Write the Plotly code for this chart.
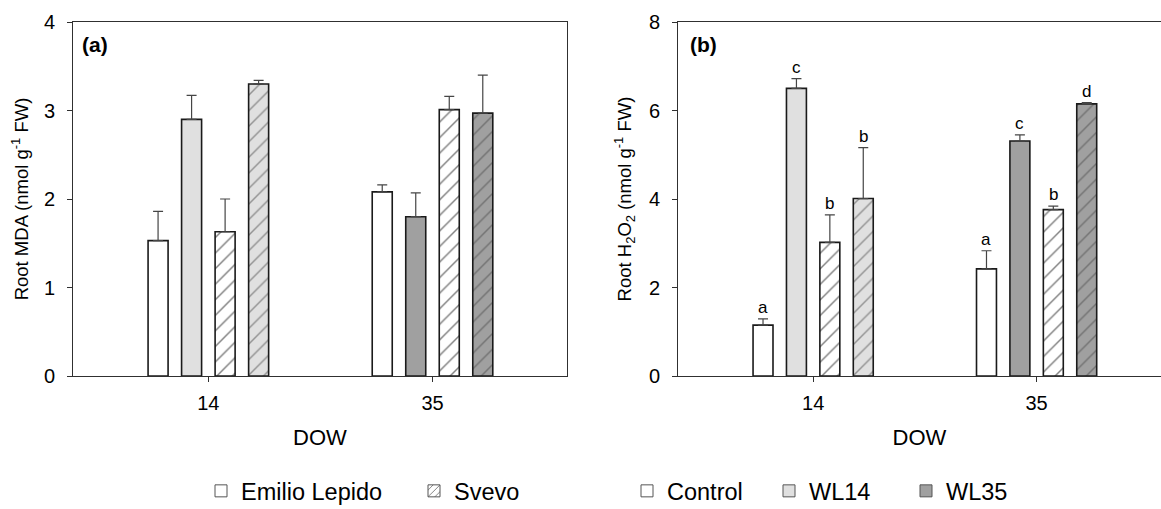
import plotly.graph_objects as go

# ---- data -------------------------------------------------------------
dow = [14, 35]                      # days of waterlogging
dow_labels = ["14", "35"]

# Root MDA (nmol g-1 FW): Emilio Lepido / Svevo, control / waterlogged
mda_el_control = [1.53, 2.08]
mda_el_control_se = [0.33, 0.08]
mda_el_wl = [2.90, 1.80]
mda_el_wl_se = [0.27, 0.27]
mda_sv_control = [1.63, 3.01]
mda_sv_control_se = [0.37, 0.15]
mda_sv_wl = [3.30, 2.97]
mda_sv_wl_se = [0.04, 0.43]

# Root H2O2 (nmol g-1 FW)
h2o2_el_control = [1.15, 2.42]
h2o2_el_control_se = [0.14, 0.41]
h2o2_el_wl = [6.50, 5.31]
h2o2_el_wl_se = [0.22, 0.14]
h2o2_sv_control = [3.02, 3.76]
h2o2_sv_control_se = [0.62, 0.08]
h2o2_sv_wl = [4.01, 6.15]
h2o2_sv_wl_se = [1.15, 0.03]

# significance letters for H2O2
h2o2_el_control_let = ["a", "a"]
h2o2_el_wl_let = ["c", "c"]
h2o2_sv_control_let = ["b", "b"]
h2o2_sv_wl_let = ["b", "d"]

# ---- style ------------------------------------------------------------
FONT = "Liberation Sans, Arial, sans-serif"
WHITE = "#ffffff"
LIGHT = "#e0e0e0"       # WL14
DARK = "#a0a0a0"        # WL35
WL_FILL = [LIGHT, DARK]  # waterlogged fill by DOW
EDGE = "#1a1a1a"
ERR = "#454545"
AXIS = "#303030"

BAR_STEP = 3.14   # distance between neighbouring bars (x units)
BAR_W = 1.875     # bar width (x units)

W, H = 1161, 509

fig = go.Figure()


def bar_x(slot):
    return [d + (slot - 1.5) * BAR_STEP for d in dow]


def add_bars(values, errors, slot, fill, hatched, xa, ya, letters=None):
    marker = dict(color=fill, line=dict(color=EDGE, width=1.6))
    if hatched:
        marker["pattern"] = dict(shape="/", fgcolor="#000000", bgcolor=fill,
                                 size=11, solidity=0.13)
    xs = bar_x(slot)
    fig.add_trace(go.Bar(
        x=xs, y=values, width=BAR_W, marker=marker,
        error_y=dict(type="data", array=errors, arrayminus=[0] * len(errors),
                     symmetric=False, color=ERR, thickness=1.2, width=5),
        xaxis=xa, yaxis=ya, showlegend=False, hoverinfo="skip"))
    if letters:
        for x, v, e, t in zip(xs, values, errors, letters):
            fig.add_annotation(x=x, y=v + e, xref=xa, yref=ya, text=t,
                               showarrow=False, yanchor="bottom", yshift=0,
                               font=dict(family=FONT, size=17, color="#000"))


# panel (a): MDA
add_bars(mda_el_control, mda_el_control_se, 0, WHITE, False, "x", "y")
add_bars(mda_el_wl, mda_el_wl_se, 1, WL_FILL, False, "x", "y")
add_bars(mda_sv_control, mda_sv_control_se, 2, WHITE, True, "x", "y")
add_bars(mda_sv_wl, mda_sv_wl_se, 3, WL_FILL, True, "x", "y")

# panel (b): H2O2
add_bars(h2o2_el_control, h2o2_el_control_se, 0, WHITE, False, "x2", "y2", h2o2_el_control_let)
add_bars(h2o2_el_wl, h2o2_el_wl_se, 1, WL_FILL, False, "x2", "y2", h2o2_el_wl_let)
add_bars(h2o2_sv_control, h2o2_sv_control_se, 2, WHITE, True, "x2", "y2", h2o2_sv_control_let)
add_bars(h2o2_sv_wl, h2o2_sv_wl_se, 3, WL_FILL, True, "x2", "y2", h2o2_sv_wl_let)

# legend entries (one legend per entry so each can be placed freely)
legend_items = [
    ("Emilio Lepido", WHITE, False, "legend", 201),
    ("Svevo", WHITE, True, "legend2", 414),
    ("Control", WHITE, False, "legend3", 627),
    ("WL14", LIGHT, False, "legend4", 769),
    ("WL35", DARK, False, "legend5", 906),
]
legend_layout = {}
for name, fill, hatched, lg, left in legend_items:
    marker = dict(color=fill, line=dict(color="#555555", width=1))
    if hatched:
        marker["pattern"] = dict(shape="/", fgcolor="#000000", bgcolor=fill,
                                 size=6, solidity=0.2)
    fig.add_trace(go.Bar(x=[None], y=[None], name=name, marker=marker,
                         legend=lg, showlegend=True, hoverinfo="skip"))
    legend_layout[lg] = dict(
        x=left / W, y=-0.008, xanchor="left", yanchor="bottom",
        orientation="h", bgcolor="rgba(0,0,0,0)", borderwidth=0,
        font=dict(family=FONT, size=23.5, color="#000"))

tick_font = dict(family=FONT, size=20, color="#000")
ytitle_font = dict(family=FONT, size=18.5, color="#000")
xtitle_font = dict(family=FONT, size=22, color="#000")

y_dom = [(H - 376) / H, (H - 22) / H]

xcommon = dict(tickvals=dow, ticktext=dow_labels, ticks="outside", ticklen=5,
               tickcolor=AXIS, showline=True, linecolor=AXIS, linewidth=1,
               showgrid=False, zeroline=False, tickfont=tick_font,
               ticklabelstandoff=4,
               title=dict(text="DOW", font=xtitle_font, standoff=16))
ycommon = dict(ticks="outside", ticklen=5, tickcolor=AXIS, showline=True,
               linecolor=AXIS, linewidth=1, showgrid=False, zeroline=False,
               tickfont=tick_font, ticklabelstandoff=8)

fig.update_layout(
    width=W, height=H,
    margin=dict(l=0, r=0, t=0, b=0, autoexpand=False),
    paper_bgcolor="white", plot_bgcolor="white",
    barmode="overlay",
    font=dict(family=FONT, color="#000"),
    xaxis=dict(domain=[73 / W, 567 / W], range=[1.32, 47.6], anchor="y",
               mirror=True, **xcommon),
    yaxis=dict(domain=y_dom, range=[0, 4], dtick=1, anchor="x", mirror=True,
               title=dict(text="Root MDA (nmol g<sup>-1</sup> FW)",
                          font=ytitle_font, standoff=10),
               **ycommon),
    xaxis2=dict(domain=[678 / W, 1.0], range=[1.3, 46.69], anchor="y2",
                mirror=True, **xcommon),
    yaxis2=dict(domain=y_dom, range=[0, 8], dtick=2, anchor="x2", mirror=False,
                title=dict(text="Root H<sub>2</sub>O<sub>2</sub> (nmol g<sup>-1</sup> FW)",
                           font=ytitle_font, standoff=12),
                **ycommon),
    **legend_layout,
)

# panel labels
for lab, left in (("(a)", 80), ("(b)", 688)):
    fig.add_annotation(x=left / W, y=(H - 44) / H, xref="paper", yref="paper",
                       text=f"<b>{lab}</b>", showarrow=False, xanchor="left",
                       yanchor="middle", font=dict(family=FONT, size=21, color="#000"))

fig.write_html("out.html")
